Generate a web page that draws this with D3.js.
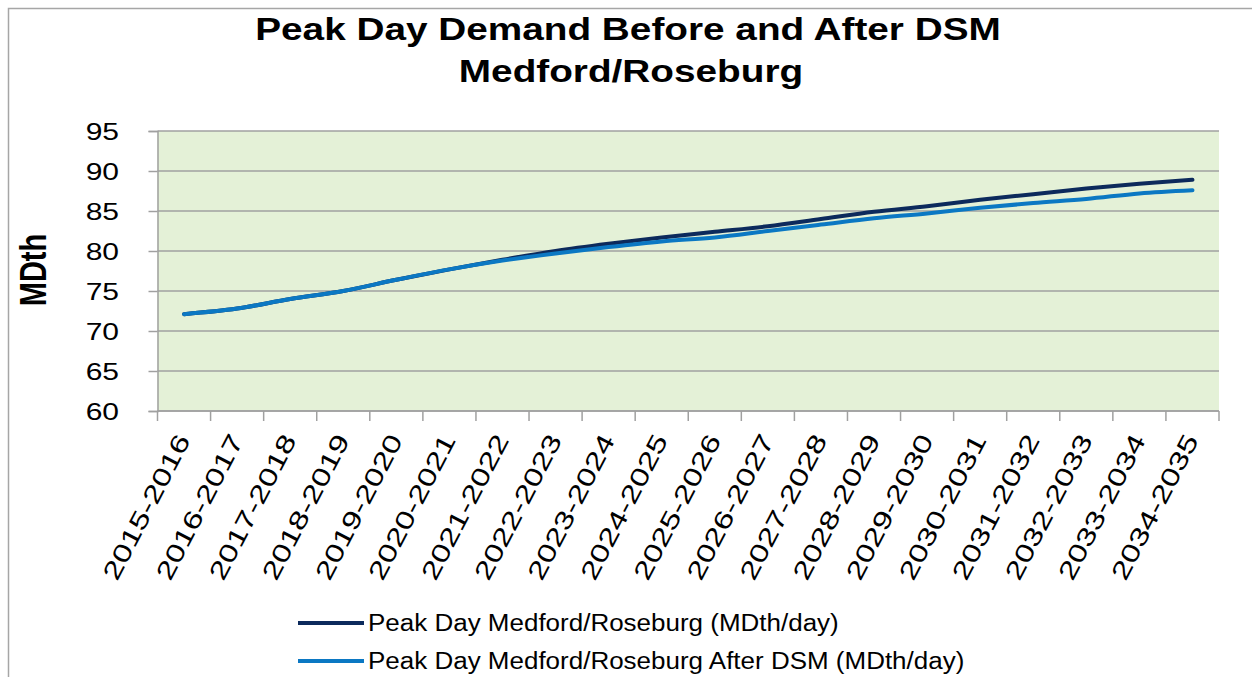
<!DOCTYPE html>
<html>
<head>
<meta charset="utf-8">
<script src="https://cdn.jsdelivr.net/npm/d3@7"></script>
<style>
  body { margin: 0; background: #fff; }
  svg { display: block; font-family: "Liberation Sans", Arial, sans-serif; }
</style>
</head>
<body>
<div id="chart"></div>
<script>
// data
var years = ['2015-2016', '2016-2017', '2017-2018', '2018-2019', '2019-2020',
    '2020-2021', '2021-2022', '2022-2023', '2023-2024', '2024-2025',
    '2025-2026', '2026-2027', '2027-2028', '2028-2029', '2029-2030',
    '2030-2031', '2031-2032', '2032-2033', '2033-2034', '2034-2035'];

var peakDay = [72.1, 72.8, 74.0, 75.0, 76.4, 77.7, 78.9, 80.0, 80.9, 81.7,
    82.4, 83.1, 84.0, 84.9, 85.6, 86.4, 87.1, 87.8, 88.4, 88.9];

var peakDayDSM = [72.1, 72.8, 74.0, 75.0, 76.4, 77.7, 78.8, 79.7, 80.5, 81.2,
    81.7, 82.5, 83.3, 84.1, 84.7, 85.4, 86.0, 86.5, 87.2, 87.6];

var yTicks = [60, 65, 70, 75, 80, 85, 90, 95];

var seriesNames = ['Peak Day Medford/Roseburg (MDth/day)',
    'Peak Day Medford/Roseburg After DSM (MDth/day)'];
var seriesColors = ['#0c2a5c', '#0b78c3'];

var sWidth = 1252;
var sHeight = 677;

// the source picture is stretched sideways, text follows that
var stretch = 1.25;

var marg = {
    top: 131,
    bottom: 266,
    left: 157.5,
    right: 33,
}

var width = sWidth - marg.left - marg.right;
var height = sHeight - marg.top - marg.bottom;

var svg = d3.select('#chart')
    .append('svg')
    .attr('width', sWidth)
    .attr('height', sHeight);

// outer frame (only top and left edges are inside the picture)
svg.append('path')
    .attr('d', 'M8.5,677 V8.5 H1252')
    .attr('fill', 'none')
    .attr('stroke', '#a6a6a6')
    .attr('stroke-width', 1.5);

// title
var titleLines = ['Peak Day Demand Before and After DSM', 'Medford/Roseburg'];
svg.selectAll('.title')
    .data(titleLines)
    .enter()
    .append('text')
    .attr('transform', (d, i) => `translate(${i ? 631 : 628}, ${i ? 82 : 40}) scale(${stretch}, 1)`)
    .attr('text-anchor', 'middle')
    .style('font-weight', 'bold')
    .style('font-size', '31px')
    .attr('fill', '#000')
    .text(d => d);

var chartsGroup = svg.append('g')
    .attr('transform', `translate(${marg.left}, ${marg.top})`);

var xScale = d3.scaleBand()
    .domain(years)
    .range([0, width]);

var yScale = d3.scaleLinear()
    .domain([60, 95])
    .range([height, 0]);

chartsGroup.append('rect')
    .attr('width', width)
    .attr('height', height)
    .attr('fill', '#e4f1d7');

// gridlines
chartsGroup.selectAll('.grid')
    .data(yTicks)
    .enter()
    .append('line')
    .attr('x1', 0)
    .attr('x2', width)
    .attr('y1', d => yScale(d))
    .attr('y2', d => yScale(d))
    .attr('stroke', '#a0a0a0')
    .attr('stroke-width', 1.5);

var leftAxis = d3.axisLeft(yScale)
    .tickValues(yTicks)
    .tickSize(9);

var yAxis = chartsGroup.append('g').call(leftAxis);
yAxis.select('.domain').attr('stroke', '#a0a0a0').attr('stroke-width', 1.5);
yAxis.selectAll('.tick line').attr('stroke', '#a0a0a0').attr('stroke-width', 1.5);
yAxis.selectAll('.tick text')
    .attr('x', -38.5 / stretch)
    .attr('dy', '0.36em')
    .attr('transform', `scale(${stretch}, 1)`)
    .style('font-size', '24px')
    .style('font-family', '"Liberation Sans", Arial, sans-serif')
    .attr('fill', '#000');

// x axis: ticks between categories like Excel
var tickPos = d3.range(years.length + 1).map(i => i * xScale.step());
var xAxis = chartsGroup.append('g')
    .attr('transform', `translate(0, ${height})`);
xAxis.append('line')
    .attr('x1', 0).attr('x2', width)
    .attr('stroke', '#a0a0a0').attr('stroke-width', 1.5);
xAxis.selectAll('.xtick')
    .data(tickPos)
    .enter()
    .append('line')
    .attr('x1', d => d).attr('x2', d => d)
    .attr('y1', 0).attr('y2', 10)
    .attr('stroke', '#a0a0a0').attr('stroke-width', 1.5);
xAxis.selectAll('.xlabel')
    .data(years)
    .enter()
    .append('text')
    .attr('transform', d => `translate(${xScale(d) + xScale.bandwidth() / 2 + 7}, 29) rotate(-62.5) scale(1.34, 1)`)
    .attr('text-anchor', 'end')
    .style('font-size', '25px')
    .attr('fill', '#000')
    .text(d => d);

// y axis title
svg.append('text')
    .attr('transform', `translate(46, 270) scale(${stretch}, 1) rotate(-90)`)
    .attr('text-anchor', 'middle')
    .style('font-weight', 'bold')
    .style('font-size', '29px')
    .text('MDth');

// lines
var line = d3.line()
    .x((d, i) => xScale(years[i]) + xScale.bandwidth() / 2)
    .y(d => yScale(d))
    .curve(d3.curveMonotoneX);

var allSeries = [peakDay, peakDayDSM];

chartsGroup.selectAll('.series')
    .data(allSeries)
    .enter()
    .append('path')
    .attr('d', d => line(d))
    .attr('fill', 'none')
    .attr('stroke', (d, i) => seriesColors[i])
    .attr('stroke-width', 4)
    .attr('stroke-linecap', 'round')
    .attr('stroke-linejoin', 'round');

// legend
var legend = svg.append('g');
var legendRows = legend.selectAll('g')
    .data(seriesNames)
    .enter()
    .append('g')
    .attr('transform', (d, i) => `translate(298, ${623 + i * 38})`);

legendRows.append('line')
    .attr('x1', 0).attr('x2', 66)
    .attr('stroke', (d, i) => seriesColors[i])
    .attr('stroke-width', 4);

legendRows.append('text')
    .attr('transform', 'translate(70, 0) scale(1.13, 1)')
    .attr('dy', '0.36em')
    .style('font-size', '23px')
    .attr('fill', '#000')
    .text(d => d);
</script>
</body>
</html>
